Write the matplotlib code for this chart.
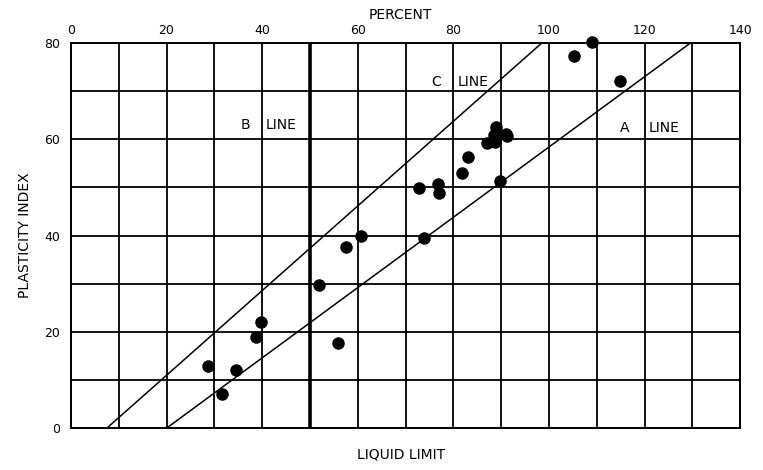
import numpy as np
import matplotlib
matplotlib.use("Agg")
import matplotlib.pyplot as plt

# liquid limit / plasticity index
ll = [28.6, 31.5, 34.6, 38.8, 39.7, 51.9, 55.9, 57.5, 60.7, 73.9,
      72.8, 76.7, 77.1, 81.9, 83.1, 87.0, 88.8, 88.5, 89.0, 91.0,
      91.3, 89.7, 105.2, 109.1, 114.9]
pi = [12.9, 7.1, 12.1, 18.9, 22.1, 29.7, 17.7, 37.7, 39.9, 39.6,
      49.8, 50.7, 48.8, 52.9, 56.3, 59.3, 59.5, 60.8, 62.6, 61.2,
      60.6, 51.4, 77.2, 80.2, 72.2]

# reference lines
a_line_x = [20, 129.6]
a_line_y = [0, 80]
c_line_x = [7.5, 98.5]
c_line_y = [0, 80]
b_line_ll = 50

xticks = [0, 20, 40, 60, 80, 100, 120, 140]
yticks = [0, 20, 40, 60, 80]

fig = plt.figure(figsize=(7.63, 4.70), dpi=100)
ax = fig.add_axes([0.093, 0.089, 0.877, 0.8195])

for gx in range(0, 141, 10):
    ax.axvline(gx, color='k', lw=1.3, zorder=1)
for gy in range(0, 81, 10):
    ax.axhline(gy, color='k', lw=1.3, zorder=1)

ax.axvline(b_line_ll, color='k', lw=2.6, zorder=2)
ax.plot(a_line_x, a_line_y, color='k', lw=1.1, zorder=2)
ax.plot(c_line_x, c_line_y, color='k', lw=1.1, zorder=2)

ax.scatter(ll, pi, s=64, color='k', zorder=3, clip_on=False)

ax.set_xlim(0, 140)
ax.set_ylim(0, 80)
ax.set_xticks(xticks)
ax.set_yticks(yticks)
ax.xaxis.tick_top()
ax.tick_params(axis='x', length=0, labelsize=9, pad=4)
ax.tick_params(axis='y', length=0, labelsize=9, pad=8)
for s in ax.spines.values():
    s.set_linewidth(1.4)

tkw = dict(fontsize=10, color='k', va='center')
ax.text(35.4, 63.0, 'B', **tkw)
ax.text(40.8, 63.0, 'LINE', **tkw)
ax.text(75.3, 72.0, 'C', **tkw)
ax.text(80.8, 72.0, 'LINE', **tkw)
ax.text(114.8, 62.4, 'A', **tkw)
ax.text(120.8, 62.4, 'LINE', **tkw)

fig.text(0.525, 0.968, 'PERCENT', ha='center', va='center', fontsize=10)
fig.text(0.525, 0.032, 'LIQUID LIMIT', ha='center', va='center', fontsize=10)
fig.text(0.033, 0.5, 'PLASTICITY INDEX', ha='center', va='center',
         rotation=90, fontsize=10)

fig.savefig('out.png', dpi=100)
